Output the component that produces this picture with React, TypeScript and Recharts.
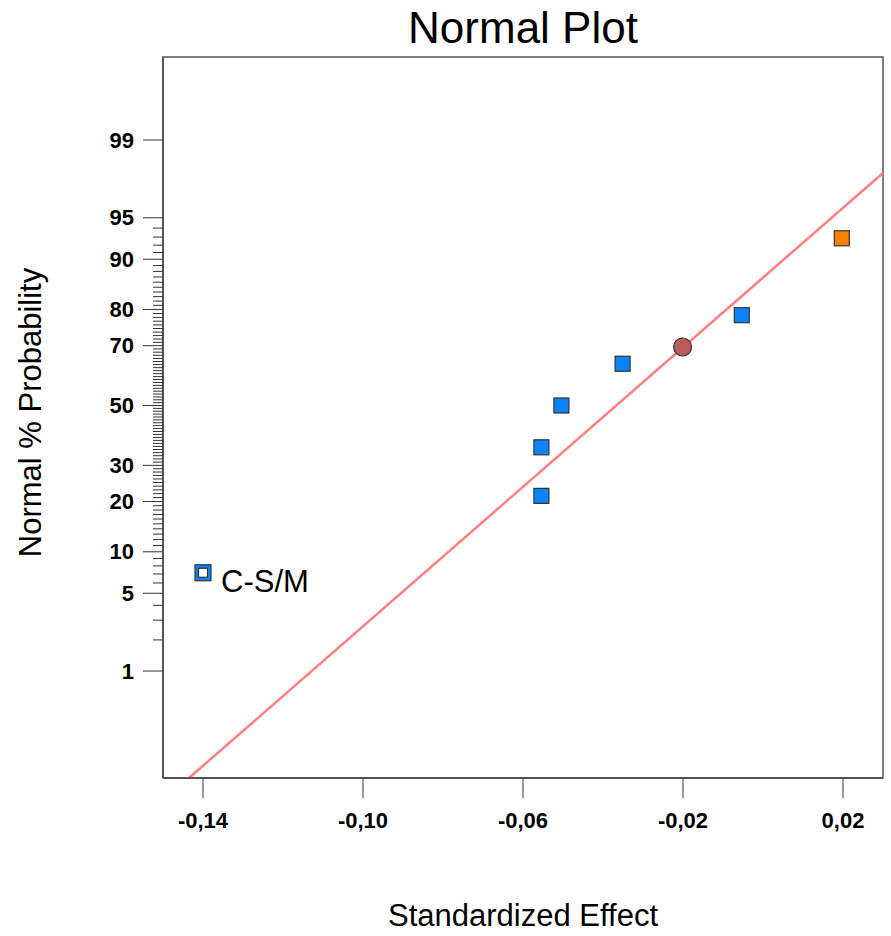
import React from 'react';
import {
  ComposedChart,
  XAxis,
  YAxis,
  Scatter,
  ReferenceLine,
  ReferenceArea,
  Label,
} from 'recharts';

// effects and their normal % probability
const effects = [-0.14, -0.0554, -0.0554, -0.0504, -0.0351, -0.0053, 0.0197];
const probabilities = [7.14, 21.43, 35.71, 50, 64.29, 78.57, 92.86];
const pointKinds = ['labeled', 'neg', 'neg', 'neg', 'neg', 'neg', 'pos'];
const pointLabels = ['C-S/M', '', '', '', '', '', ''];

// centre point sitting on the fitted line
const centerEffect = [-0.0201];
const centerProb = [69.6];

// fitted line end points
const fitEffect = [-0.1435, 0.03];
const fitProb = [0.055, 97.92];

const xTicks = [-0.14, -0.1, -0.06, -0.02, 0.02];
const xLimits = [-0.15, 0.03];
const yLimits = [0.055, 99.887];
const majorPercents = [1, 5, 10, 20, 30, 50, 70, 80, 90, 95, 99];
const minorPercents = Array.from({ length: 94 }, (_, i) => i + 1).filter((p) => !majorPercents.includes(p));

const FONT = "Arial, 'Liberation Sans', sans-serif";

// inverse normal cdf (Acklam) for the probability axis
const probit = (pct: number) => {
  const p = pct / 100;
  const a = [-39.69683028665376, 220.9460984245205, -275.9285104469687, 138.357751867269, -30.66479806614716, 2.506628277459239];
  const b = [-54.47609879822406, 161.5858368580409, -155.6989798598866, 66.80131188771972, -13.28068155288572];
  const c = [-0.007784894002430293, -0.3223964580411365, -2.400758277161838, -2.549732539343734, 4.374664141464968, 2.938163982698783];
  const d = [0.007784695709041462, 0.3224671290700398, 2.445134137142996, 3.754408661907416];
  const pl = 0.02425;
  if (p < pl) {
    const q = Math.sqrt(-2 * Math.log(p));
    return (((((c[0] * q + c[1]) * q + c[2]) * q + c[3]) * q + c[4]) * q + c[5]) / ((((d[0] * q + d[1]) * q + d[2]) * q + d[3]) * q + 1);
  }
  if (p > 1 - pl) {
    const q = Math.sqrt(-2 * Math.log(1 - p));
    return -(((((c[0] * q + c[1]) * q + c[2]) * q + c[3]) * q + c[4]) * q + c[5]) / ((((d[0] * q + d[1]) * q + d[2]) * q + d[3]) * q + 1);
  }
  const q = p - 0.5;
  const r = q * q;
  return ((((((a[0] * r + a[1]) * r + a[2]) * r + a[3]) * r + a[4]) * r + a[5]) * q) / (((((b[0] * r + b[1]) * r + b[2]) * r + b[3]) * r + b[4]) * r + 1);
};

const points = effects.map((x, i) => ({ x, y: probit(probabilities[i]), kind: pointKinds[i], label: pointLabels[i] }));
const centerPoints = centerEffect.map((x, i) => ({ x, y: probit(centerProb[i]) }));
const yTickPercents = [...majorPercents, ...minorPercents].sort((a, b) => a - b);
const yTicks = yTickPercents.map(probit);

const YTick = (props: any) => {
  const { x, y, payload } = props;
  const pct = yTickPercents.find((p) => Math.abs(probit(p) - payload.value) < 1e-9);
  const major = pct !== undefined && majorPercents.includes(pct);
  if (!major) {
    return <line x1={x - 10} y1={y} x2={x} y2={y} stroke="#333" strokeWidth={1} />;
  }
  return (
    <g>
      <line x1={x - 20} y1={y} x2={x} y2={y} stroke="#333" strokeWidth={1} />
      <text x={x - 29} y={y} dy="0.35em" textAnchor="end" fontSize={22} fontWeight="bold" fill="#000" fontFamily={FONT}>
        {pct}
      </text>
    </g>
  );
};

const EffectShape = (props: any) => {
  const { cx, cy, payload } = props;
  if (cx == null || cy == null) return null;
  if (payload.kind === 'labeled') {
    return (
      <g>
        <rect x={cx - 8} y={cy - 8} width={16} height={16} fill="#0a84ff" stroke="#333" strokeWidth={1.2} />
        <rect x={cx - 4.5} y={cy - 4.5} width={9} height={9} fill="#fff" stroke="#333" strokeWidth={1.2} />
        <text x={cx + 18} y={cy + 8} dy="0.35em" fontSize={31} fill="#000" fontFamily={FONT}>
          {payload.label}
        </text>
      </g>
    );
  }
  const fill = payload.kind === 'pos' ? '#ff8000' : '#0a84ff';
  return <rect x={cx - 7.5} y={cy - 7.5} width={15} height={15} fill={fill} stroke="#333" strokeWidth={1.2} />;
};

const CenterShape = (props: any) => {
  const { cx, cy } = props;
  if (cx == null || cy == null) return null;
  return <circle cx={cx} cy={cy} r={9} fill="#b85c5c" stroke="#333" strokeWidth={1.2} />;
};

export default function App() {
  return (
    <div style={{ position: 'absolute', left: 0, top: 0, background: '#fff' }}>
      <ComposedChart width={891} height={936} margin={{ top: 57, right: 8, left: 103, bottom: 98 }}>
        <XAxis
          type="number"
          dataKey="x"
          domain={xLimits}
          allowDataOverflow
          ticks={xTicks}
          interval={0}
          tickSize={20}
          tickMargin={14}
          height={60}
          stroke="#555"
          strokeWidth={2}
          tick={{ fontSize: 22, fontWeight: 'bold', fill: '#000', fontFamily: FONT }}
          tickLine={{ stroke: '#333', strokeWidth: 1 }}
          tickFormatter={(v: number) => v.toFixed(2).replace('.', ',')}
        >
          <Label
            content={(p: any) => (
              <text x={p.viewBox.x + p.viewBox.width / 2} y={p.viewBox.y + 148} textAnchor="middle" fontSize={31} fill="#000" fontFamily={FONT}>
                Standardized Effect
              </text>
            )}
          />
        </XAxis>
        <YAxis
          type="number"
          dataKey="y"
          domain={[probit(yLimits[0]), probit(yLimits[1])]}
          allowDataOverflow
          ticks={yTicks}
          interval={0}
          width={60}
          tickSize={0}
          tickMargin={0}
          tickLine={false}
          stroke="#555"
          strokeWidth={2}
          tick={<YTick />}
        >
          <Label
            content={(p: any) => {
              const cy = p.viewBox.y + p.viewBox.height / 2 - 5;
              return (
                <text x={30} y={cy} transform={`rotate(-90 30 ${cy})`} textAnchor="middle" dy="0.35em" fontSize={31} fill="#000" fontFamily={FONT}>
                  Normal % Probability
                </text>
              );
            }}
          />
        </YAxis>
        <ReferenceArea
          x1={xLimits[0]}
          x2={xLimits[1]}
          y1={probit(yLimits[0])}
          y2={probit(yLimits[1])}
          fill="none"
          stroke="#555"
          strokeWidth={1.5}
          ifOverflow="visible"
          label={{ value: 'Normal Plot', position: 'top', offset: 14, fontSize: 44, fill: '#000', fontFamily: FONT }}
        />
        <ReferenceLine
          segment={[
            { x: fitEffect[0], y: probit(fitProb[0]) },
            { x: fitEffect[1], y: probit(fitProb[1]) },
          ]}
          stroke="#ff8080"
          strokeWidth={2.5}
          ifOverflow="visible"
        />
        <Scatter data={points} shape={<EffectShape />} isAnimationActive={false} />
        <Scatter data={centerPoints} shape={<CenterShape />} isAnimationActive={false} />
      </ComposedChart>
    </div>
  );
}
